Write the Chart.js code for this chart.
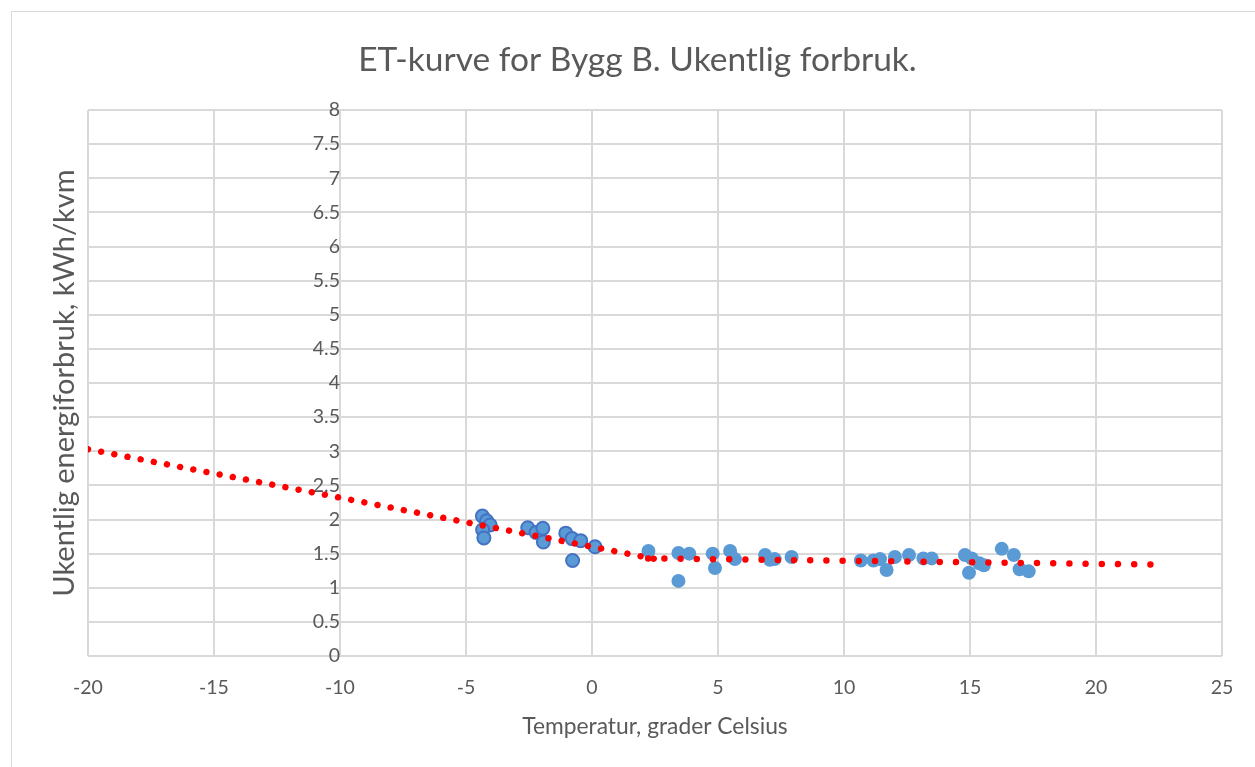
<!DOCTYPE html>
<html>
<head>
<meta charset="utf-8">
<script src="https://cdn.jsdelivr.net/npm/chart.js@4.4.1/dist/chart.umd.min.js"></script>
<style>
  html, body { margin: 0; padding: 0; background: #ffffff; overflow: hidden; }
  #frame { position: absolute; left: 11px; top: 11px; width: 1300px; height: 800px;
           border: 1px solid #d9d9d9; box-sizing: border-box; }
  #wrap { position: absolute; left: 0; top: 0; width: 1255px; height: 767px; }
</style>
</head>
<body>
<div id="frame"></div>
<div id="wrap"><canvas id="c" width="1255" height="767"></canvas></div>
<script>
// Weekly energy use (kWh/kvm) against mean outdoor temperature (°C)
const heatingTemp = [-4.35, -4.18, -4.04, -4.34, -4.29, -2.55, -2.22, -1.95, -1.93, -1.04, -0.79, -0.45, 0.12, -0.77];
const heatingUse  = [ 2.05,  1.98,  1.92,  1.85,  1.73,  1.88,  1.81,  1.87,  1.67,  1.80,  1.72,  1.69, 1.60,  1.40];

const summerTemp = [2.24, 3.43, 3.86, 3.43, 4.79, 4.88, 5.48, 5.67, 6.87, 7.06, 7.25, 7.92,
                    10.67, 11.17, 11.43, 11.69, 12.02, 12.58, 13.15, 13.48,
                    14.80, 15.07, 14.96, 15.37, 15.55, 16.26, 16.74, 16.97, 17.33];
const summerUse  = [1.54, 1.51, 1.50, 1.10, 1.50, 1.29, 1.54, 1.42, 1.48, 1.41, 1.42, 1.45,
                    1.40, 1.40, 1.42, 1.26, 1.45, 1.48, 1.43, 1.43,
                    1.48, 1.43, 1.22, 1.36, 1.33, 1.57, 1.48, 1.27, 1.24];

// Trend lines: heating season (extended to -20 °C) and the warm-weather base line
const coldTrendTemp = [-20, -10, 0, 2.94];
const coldTrendUse  = [3.03, 2.32, 1.60, 1.39];
const warmTrendTemp = [2.23, 12.5, 22.23];
const warmTrendUse  = [1.43, 1.385, 1.34];

// Axis ticks
const tempTicks = [-20, -15, -10, -5, 0, 5, 10, 15, 20, 25];
const useTicks  = [0, 0.5, 1, 1.5, 2, 2.5, 3, 3.5, 4, 4.5, 5, 5.5, 6, 6.5, 7, 7.5, 8];

const pts = (xs, ys) => xs.map((x, i) => ({ x: x, y: ys[i] }));

const FONT = 'Lato, "Open Sans", sans-serif';
const TEXT = '#595959';
const GRID = '#d9d9d9';

new Chart(document.getElementById('c'), {
  type: 'scatter',
  data: {
    datasets: [
      {
        label: 'Trend oppvarming',
        data: pts(coldTrendTemp, coldTrendUse),
        showLine: true,
        pointRadius: 0,
        borderColor: '#ff0000',
        borderWidth: 6.5,
        borderDash: [0.001, 13.4],
        borderCapStyle: 'round',
        tension: 0,
        order: 0
      },
      {
        label: 'Trend grunnlast',
        data: pts(warmTrendTemp, warmTrendUse),
        showLine: true,
        pointRadius: 0,
        borderColor: '#ff0000',
        borderWidth: 6.5,
        borderDash: [0.001, 16.2],
        borderCapStyle: 'round',
        tension: 0,
        order: 0
      },
      {
        label: 'Fyringssesong',
        data: pts(heatingTemp, heatingUse),
        backgroundColor: '#5b9bd5',
        borderColor: '#4472c4',
        borderWidth: 2,
        pointRadius: 6.5,
        order: 1
      },
      {
        label: 'Sommerhalvår',
        data: pts(summerTemp, summerUse),
        backgroundColor: '#5b9bd5',
        borderColor: '#5b9bd5',
        borderWidth: 0,
        pointRadius: 7,
        order: 2
      }
    ]
  },
  options: {
    responsive: false,
    animation: false,
    events: [],
    layout: { padding: { left: 20, right: 0, top: 0, bottom: 0 } },
    plugins: {
      legend: { display: false },
      tooltip: { enabled: false },
      title: {
        display: true,
        text: 'ET-kurve for Bygg B. Ukentlig forbruk.',
        color: TEXT,
        font: { family: FONT, size: 33.5, weight: 'normal' },
        padding: { top: 39.9, bottom: 29.9 }
      }
    },
    scales: {
      x: {
        type: 'linear',
        position: 'bottom',
        min: -20,
        max: 25,
        afterBuildTicks: s => { s.ticks = tempTicks.map(v => ({ value: v })); },
        afterFit: s => { s.height = 111; },
        grid: { color: GRID, lineWidth: 2, drawTicks: false },
        border: { display: false },
        ticks: {
          color: TEXT,
          padding: 20.3,
          maxRotation: 0,
          autoSkip: false,
          font: { family: FONT, size: 19.5 },
          callback: v => String(v)
        },
        title: {
          display: true,
          text: 'Temperatur, grader Celsius',
          color: TEXT,
          font: { family: FONT, size: 22.8 },
          padding: { top: 0, bottom: 26.3 }
        }
      },
      y: {
        type: 'linear',
        position: { x: -10 },
        min: 0,
        max: 8,
        afterBuildTicks: s => { s.ticks = useTicks.map(v => ({ value: v })); },
        grid: { color: GRID, lineWidth: 2, drawTicks: false },
        border: { display: false },
        ticks: {
          color: TEXT,
          padding: 23.3,
          autoSkip: false,
          font: { family: FONT, size: 19.5 },
          callback: v => String(v)
        }
      },
      yTitle: {
        type: 'linear',
        position: 'left',
        min: 0,
        max: 8,
        afterFit: s => { s.width = 68; },
        grid: { display: false, drawTicks: false },
        border: { display: false },
        ticks: { display: false },
        title: {
          display: true,
          text: 'Ukentlig energiforbruk, kWh/kvm',
          color: TEXT,
          font: { family: FONT, size: 29 },
          padding: { top: 27.6, bottom: 0 }
        }
      },
      yRight: {
        type: 'linear',
        position: 'right',
        min: 0,
        max: 8,
        afterFit: s => { s.width = 33; },
        grid: { display: false, drawTicks: false },
        border: { display: false },
        ticks: { display: false }
      }
    }
  }
});
</script>
</body>
</html>
